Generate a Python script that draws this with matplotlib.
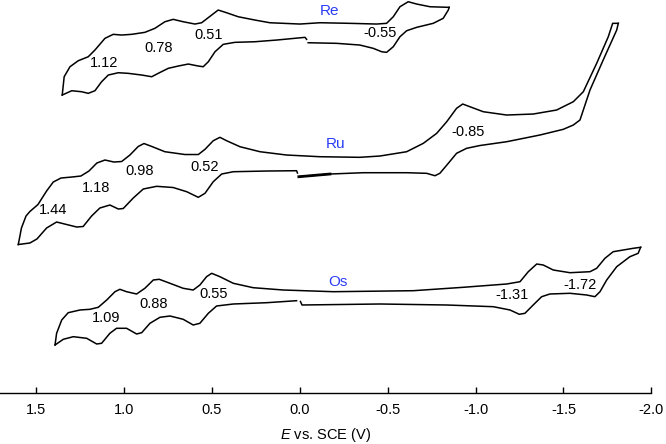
import matplotlib
matplotlib.use("Agg")
import matplotlib.pyplot as plt

# cyclic voltammograms of the Re, Ru and Os complexes (current in arbitrary units, curves stacked)
plt.rcParams['font.family'] = ['Liberation Sans', 'DejaVu Sans']
plt.rcParams['mathtext.fontset'] = 'custom'
plt.rcParams['mathtext.it'] = 'Liberation Sans:italic'
plt.rcParams['mathtext.rm'] = 'Liberation Sans'

# Re: upper branch, lower branch left of the start point, lower branch right of it
re_up_E = [1.351, 1.340, 1.307, 1.260, 1.203, 1.165, 1.108, 1.061, 1.013, 0.956, 0.881, 0.824, 0.767, 0.720,
           0.663, 0.596, 0.558, 0.501, 0.464, 0.416, 0.350, 0.255, 0.170, -0.001, -0.115, -0.286, -0.437,
           -0.494, -0.532, -0.570, -0.617, -0.665, -0.741, -0.850]
re_up_I = [29.8, 31.63, 32.63, 33.23, 33.63, 34.3, 35.47, 35.87, 35.8, 35.87, 36.07, 36.47, 37.13, 37.37,
           37.13, 36.9, 37.03, 37.8, 38.3, 38.03, 37.63, 37.3, 37.03, 36.9, 37.03, 36.97, 36.9,
           36.97, 37.63, 38.63, 39.13, 38.9, 38.63, 38.57]
re_lo1_E = [1.351, 1.297, 1.241, 1.203, 1.165, 1.127, 1.089, 1.032, 0.976, 0.899, 0.842, 0.805, 0.748, 0.691,
            0.634, 0.577, 0.549, 0.520, 0.482, 0.435, 0.369, 0.255, 0.131, -0.030, -0.039]
re_lo1_I = [29.8, 30.23, 30.13, 29.97, 30.23, 31.13, 31.8, 32.03, 31.97, 31.8, 31.63, 31.97, 32.47, 32.7,
            32.9, 32.7, 32.63, 33.13, 34.13, 34.87, 35.07, 35.13, 35.3, 35.57, 35.37]
re_lo2_E = [-0.048, -0.210, -0.342, -0.418, -0.466, -0.494, -0.532, -0.570, -0.608, -0.665, -0.759, -0.816,
            -0.845, -0.850]
re_lo2_I = [35.03, 34.97, 34.8, 34.47, 34.13, 34.07, 34.63, 35.63, 36.23, 36.57, 36.97, 37.47, 38.3, 38.57]

# Ru
ru_up_E = [1.601, 1.583, 1.557, 1.535, 1.489, 1.440, 1.402, 1.358, 1.296, 1.245, 1.199, 1.154, 1.108, 1.057,
           1.013, 0.966, 0.919, 0.886, 0.841, 0.767, 0.653, 0.577, 0.539, 0.492, 0.454, 0.416, 0.340, 0.226,
           0.075, -0.115, -0.342, -0.456, -0.608, -0.703, -0.779, -0.836, -0.892, -0.927, -0.968, -1.044,
           -1.177, -1.328, -1.461, -1.556, -1.613, -1.689, -1.755, -1.780, -1.812]
ru_up_I = [14.85, 16.5, 17.7, 18.15, 18.85, 20.2, 21.1, 21.5, 21.6, 21.7, 22.2, 23.0, 23.3, 23.1,
           23.15, 23.8, 24.65, 24.95, 24.65, 24.13, 23.85, 23.85, 24.37, 25.23, 25.57, 25.23, 24.63, 24.13,
           23.8, 23.63, 23.57, 23.7, 24.13, 24.97, 25.97, 27.13, 28.47, 28.9, 28.63, 28.13,
           27.8, 27.9, 28.3, 29.13, 30.13, 32.97, 35.63, 36.97, 36.97]
ru_lo1_E = [1.601, 1.535, 1.495, 1.440, 1.383, 1.326, 1.269, 1.232, 1.184, 1.137, 1.080, 1.032, 1.004, 0.947,
            0.890, 0.814, 0.720, 0.643, 0.577, 0.539, 0.492, 0.444, 0.378, 0.188, 0.018, 0.013]
ru_lo1_I = [14.85, 15.0, 15.4, 16.5, 17.1, 16.85, 16.6, 16.65, 17.7, 18.5, 18.8, 18.4, 18.45, 19.5,
            20.4, 20.67, 20.55, 20.13, 19.57, 19.97, 21.13, 21.9, 22.13, 22.2, 22.23, 22.0]
ru_lo2_E = [0.005, -0.172, -0.361, -0.608, -0.722, -0.769, -0.797, -0.845, -0.892, -0.949, -1.025, -1.177,
            -1.366, -1.499, -1.556, -1.594, -1.651, -1.726, -1.803, -1.812]
ru_lo2_I = [21.63, 21.9, 22.03, 22.03, 21.97, 21.73, 21.97, 22.97, 23.97, 24.47, 24.75, 25.13,
            25.8, 26.37, 26.8, 27.3, 30.3, 33.3, 36.3, 36.97]

# Os
os_up_E = [1.392, 1.383, 1.354, 1.317, 1.250, 1.193, 1.146, 1.098, 1.051, 1.023, 0.985, 0.928, 0.881, 0.833,
           0.799, 0.738, 0.663, 0.606, 0.568, 0.530, 0.501, 0.454, 0.378, 0.265, 0.094, -0.191, -0.646,
           -0.930, -1.177, -1.253, -1.300, -1.348, -1.385, -1.442, -1.537, -1.651, -1.689, -1.736, -1.783,
           -1.840, -1.897, -1.939]
os_up_I = [4.8, 5.97, 7.3, 8.03, 8.3, 8.37, 8.57, 9.3, 10.13, 10.37, 10.13, 9.9, 10.47, 11.3,
           11.37, 10.97, 10.47, 10.3, 10.8, 11.63, 11.97, 11.63, 10.97, 10.53, 10.3, 10.13, 10.23,
           10.57, 10.9, 11.13, 12.13, 12.9, 12.8, 12.3, 12.03, 12.13, 12.47, 13.47, 14.13,
           14.3, 14.47, 14.57]
os_lo1_E = [1.392, 1.345, 1.288, 1.212, 1.155, 1.127, 1.080, 1.042, 0.985, 0.928, 0.899, 0.852, 0.795, 0.738,
            0.663, 0.606, 0.568, 0.520, 0.473, 0.378, 0.188, 0.018]
os_lo1_I = [4.8, 5.37, 5.63, 5.47, 4.9, 4.97, 5.97, 6.47, 6.47, 5.9, 6.03, 6.97, 7.57, 7.7,
            7.37, 6.8, 6.97, 7.97, 8.7, 8.9, 9.03, 9.23]
os_lo2_E = [-0.004, -0.013, -0.456, -0.836, -1.101, -1.196, -1.249, -1.281, -1.328, -1.376, -1.423, -1.537,
            -1.632, -1.679, -1.708, -1.746, -1.803, -1.878, -1.925, -1.939]
os_lo2_I = [9.15, 8.8, 8.9, 8.8, 8.63, 8.3, 7.87, 7.97, 8.8, 9.63, 9.9, 9.97,
            9.8, 9.63, 10.13, 11.3, 12.63, 13.63, 13.97, 14.57]

# peak potential labels
peak_labels = ['1.12', '0.78', '0.51', '-0.55',
               '1.44', '1.18', '0.98', '0.52', '-0.85',
               '1.09', '0.88', '0.55', '-1.31', '-1.72']
peak_E = [1.112, 0.801, 0.516, -0.456,
          1.402, 1.156, 0.909, 0.539, -0.958,
          1.102, 0.833, 0.492, -1.205, -1.594]
peak_I = [33.03, 34.47, 35.8, 35.97,
          18.3, 20.52, 22.2, 22.63, 26.13,
          7.47, 8.9, 9.9, 9.8, 10.8]

metals = ['Re', 'Ru', 'Os']
metal_E = [-0.172, -0.206, -0.219]
metal_I = [38.23, 24.9, 11.13]

fig = plt.figure(figsize=(6.66, 4.44), dpi=100)
ax = fig.add_axes([0, 0.1149, 0.978, 0.885])

branches = [(re_up_E, re_up_I), (re_lo1_E, re_lo1_I), (re_lo2_E, re_lo2_I),
            (ru_up_E, ru_up_I), (ru_lo1_E, ru_lo1_I), (ru_lo2_E, ru_lo2_I),
            (os_up_E, os_up_I), (os_lo1_E, os_lo1_I), (os_lo2_E, os_lo2_I)]
for E, I in branches:
    ax.plot(E, I, color='black', lw=1.1, solid_joinstyle='round', clip_on=False)

# the start of the Ru scan is drawn over twice, so it looks heavier
ax.plot(ru_lo2_E[:2], ru_lo2_I[:2], color='black', lw=2.0, clip_on=False)

for txt, x, y in zip(peak_labels, peak_E, peak_I):
    ax.text(x, y, txt, fontsize=10.5, ha='center', va='center')
for txt, x, y in zip(metals, metal_E, metal_I):
    ax.text(x, y, txt, fontsize=11, color='#2a3cf5', ha='center', va='center')

ax.set_xlim(1.705, -2.0)
ax.set_ylim(0, 39.3)
ax.set_xticks([1.5, 1.0, 0.5, 0.0, -0.5, -1.0, -1.5, -2.0])
ax.set_xticklabels(['1.5', '1.0', '0.5', '0.0', '-0.5', '-1.0', '-1.5', '-2.0'])
ax.tick_params(axis='x', direction='in', length=4, width=1, labelsize=10.5, pad=7)
ax.set_yticks([])
for s in ['top', 'right', 'left']:
    ax.spines[s].set_visible(False)
ax.spines['bottom'].set_linewidth(1.0)
ax.set_xlabel(r'$\it{E}$ vs. SCE (V)', fontsize=10.5, labelpad=7)

fig.savefig('out.png', dpi=100)
